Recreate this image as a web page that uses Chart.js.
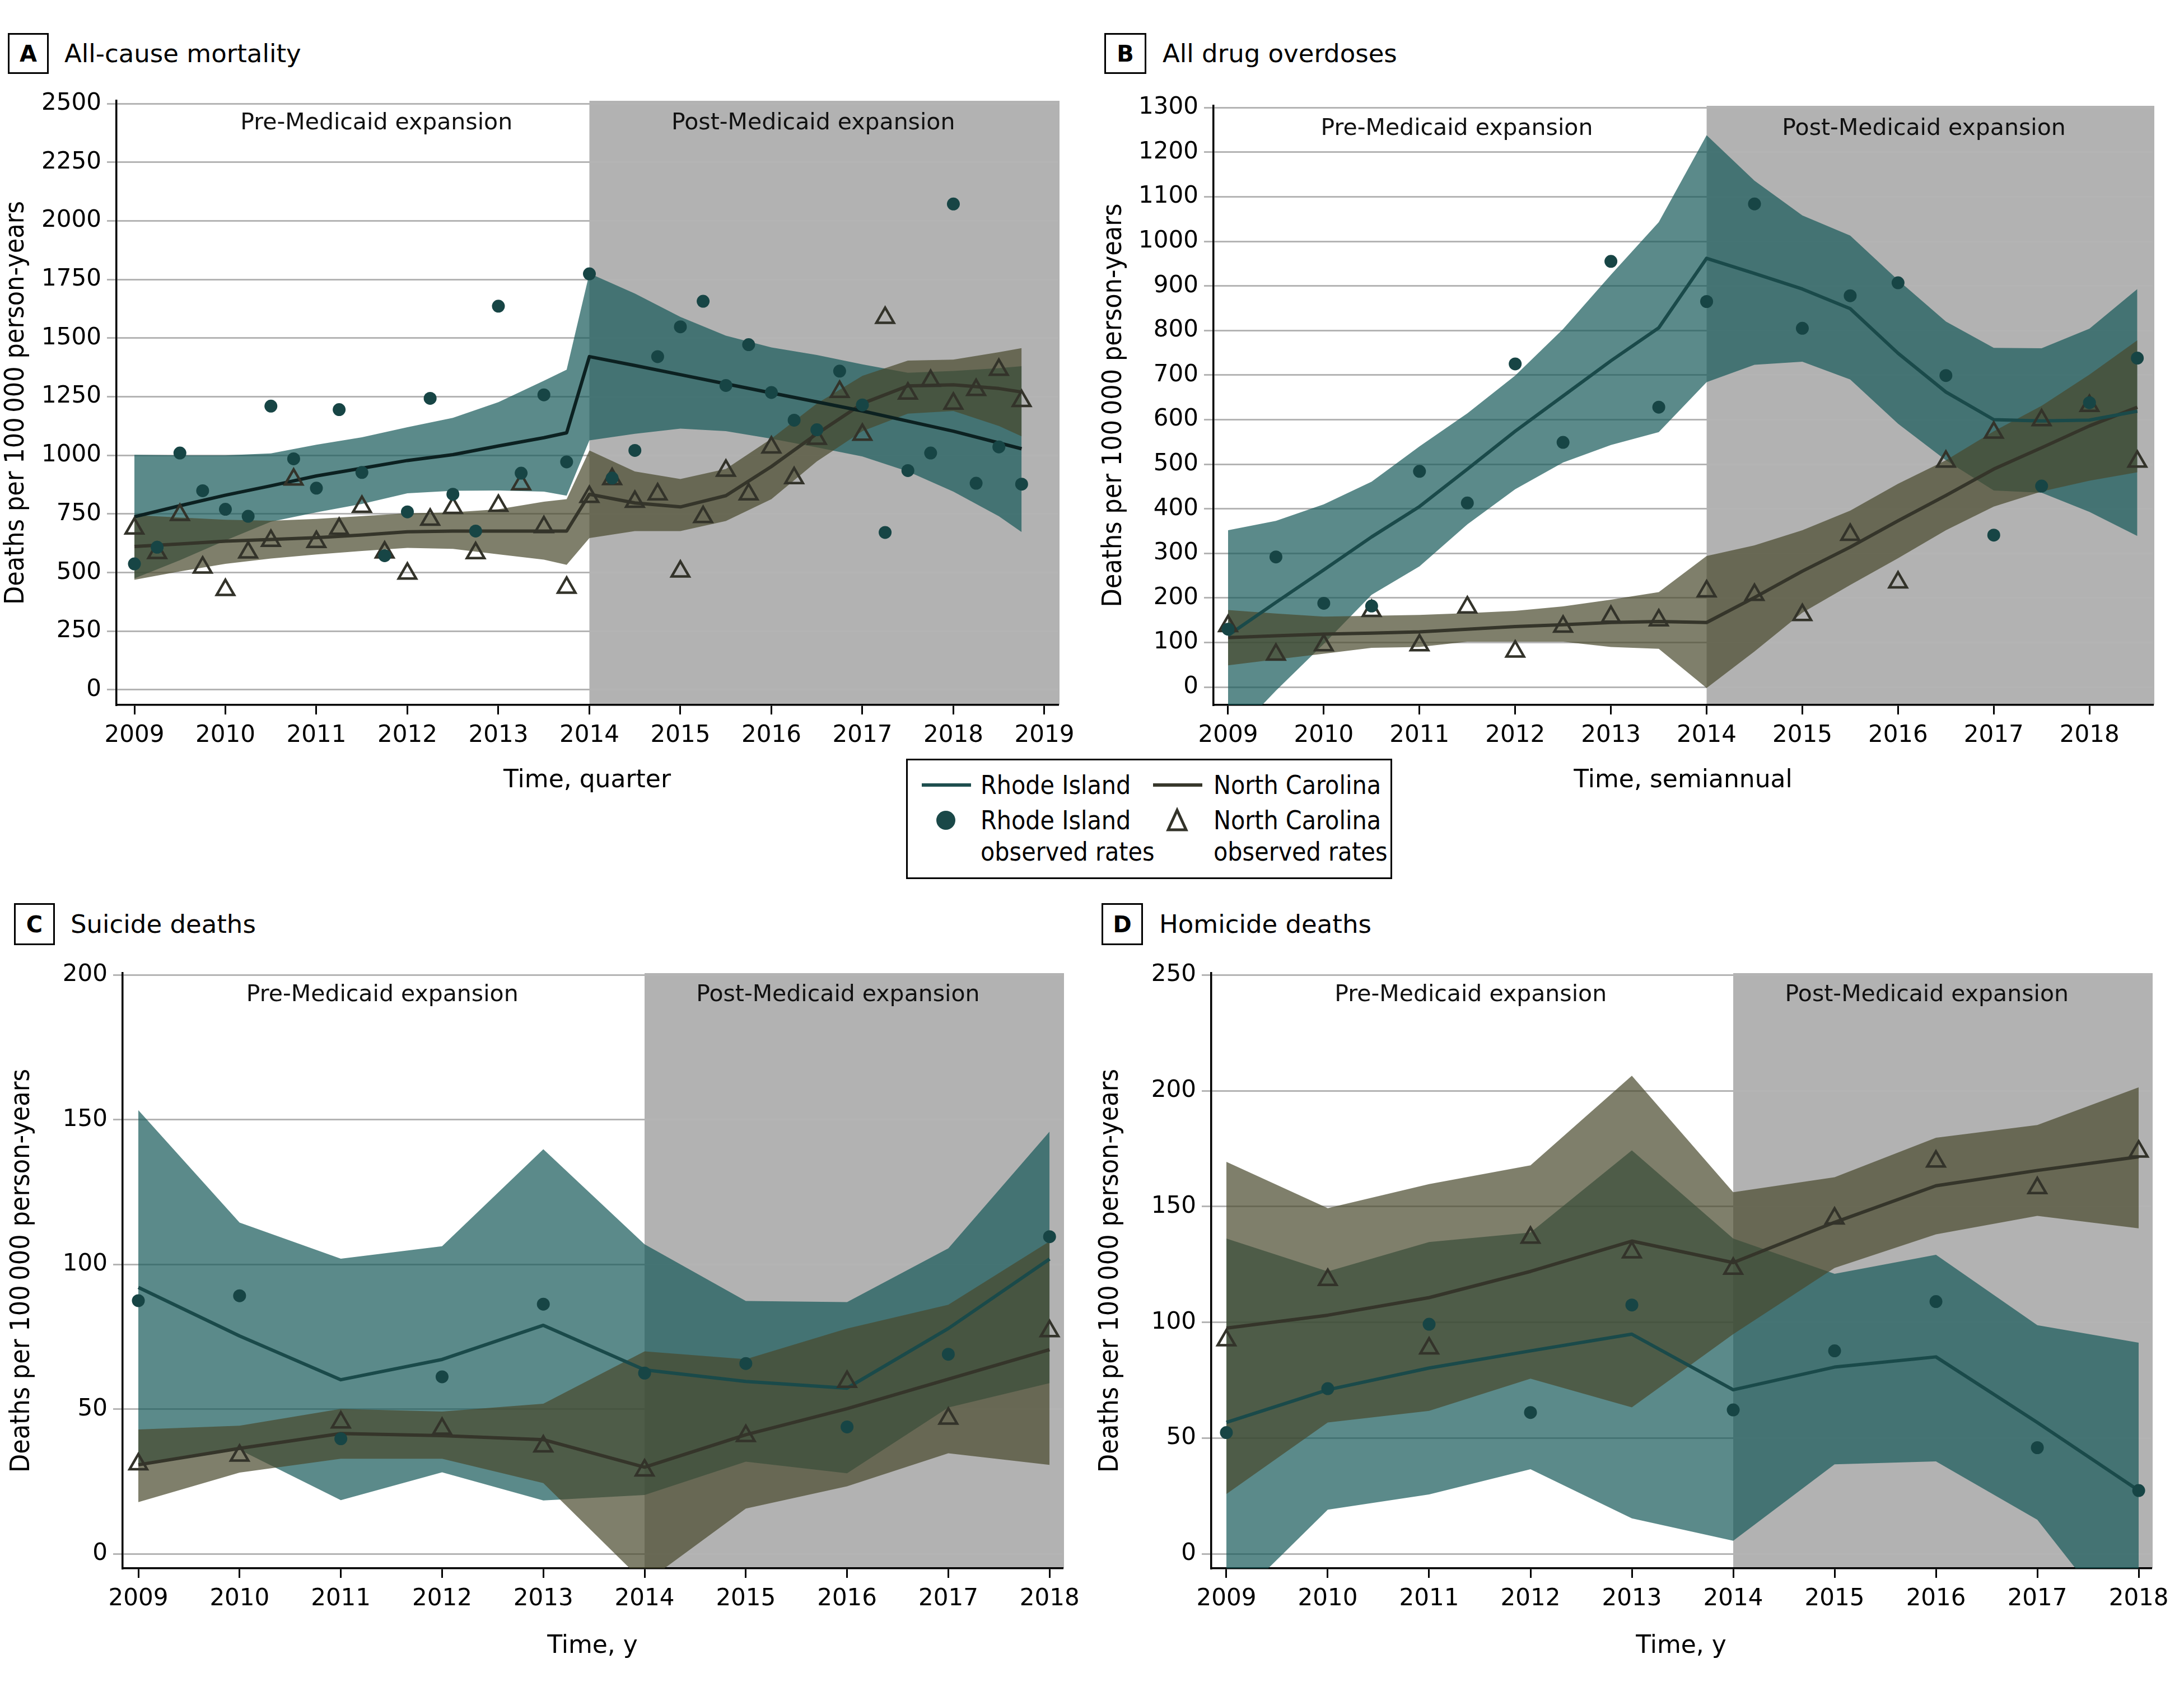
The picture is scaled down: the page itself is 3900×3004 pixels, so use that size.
<!DOCTYPE html>
<html><head><meta charset="utf-8">
<script src="https://cdn.jsdelivr.net/npm/chart.js@4.4.1/dist/chart.umd.min.js"></script>
<style>
html,body{margin:0;padding:0;background:#fff;}
body{width:3900px;height:3004px;position:relative;overflow:hidden;font-family:'DejaVu Sans',sans-serif;}
canvas{position:absolute;}
.box{position:absolute;border:3px solid #000;box-sizing:border-box;font:bold 40px 'DejaVu Sans';display:flex;align-items:center;justify-content:center;color:#000;}
.ptitle{position:absolute;font:45px 'DejaVu Sans';line-height:60px;height:60px;color:#000;white-space:nowrap;}
#legend{position:absolute;left:1618px;top:1355px;width:868px;height:215px;border:3px solid #000;box-sizing:border-box;background:#fff;z-index:5;}
.lsw{position:absolute;width:88px;height:6px;}
.ltx{position:absolute;font-size:46px;line-height:56px;height:56px;white-space:nowrap;color:#000;font-family:'DejaVu Sans Condensed','Liberation Sans Narrow',sans-serif;}
</style></head><body>

<div class="box" style="left:14px;top:59px;width:73px;height:73px;">A</div>
<div class="ptitle" style="left:115px;top:66px;">All-cause mortality</div>
<div class="box" style="left:1972px;top:59px;width:75px;height:73px;">B</div>
<div class="ptitle" style="left:2076px;top:66px;">All drug overdoses</div>
<div class="box" style="left:25px;top:1613px;width:73px;height:75px;">C</div>
<div class="ptitle" style="left:126px;top:1621px;">Suicide deaths</div>
<div class="box" style="left:1967px;top:1613px;width:74px;height:75px;">D</div>
<div class="ptitle" style="left:2070px;top:1621px;">Homicide deaths</div>

<canvas id="cA" width="1950" height="1309" style="left:0px;top:140px;"></canvas>
<canvas id="cB" width="1950" height="1309" style="left:1950px;top:140px;"></canvas>
<canvas id="cC" width="1950" height="1293" style="left:0px;top:1698px;"></canvas>
<canvas id="cD" width="1950" height="1293" style="left:1950px;top:1698px;"></canvas>

<div id="legend">
  <div class="lsw" style="left:25px;top:41px;background:#1e4f4f;"></div>
  <div class="ltx" style="left:130px;top:16px;">Rhode Island</div>
  <svg style="position:absolute;left:48px;top:87px;" width="40" height="40"><circle cx="20" cy="20" r="17" fill="#1a4848"/></svg>
  <div class="ltx" style="left:130px;top:79px;">Rhode Island</div>
  <div class="ltx" style="left:130px;top:135px;">observed rates</div>
  <div class="lsw" style="left:438px;top:41px;background:#37372b;"></div>
  <div class="ltx" style="left:546px;top:16px;">North Carolina</div>
  <svg style="position:absolute;left:456px;top:83px;" width="50" height="50"><polygon points="25,6 9,41 41,41" fill="none" stroke="#33332a" stroke-width="5"/></svg>
  <div class="ltx" style="left:546px;top:79px;">North Carolina</div>
  <div class="ltx" style="left:546px;top:135px;">observed rates</div>
</div>

<script>
// ---------------- Panel A: all-cause mortality (quarterly) ----------------
const aObsX = [2009,2009.25,2009.5,2009.75,2010,2010.25,2010.5,2010.75,2011,2011.25,2011.5,2011.75,2012,2012.25,2012.5,2012.75,2013,2013.25,2013.5,2013.75,2014,2014.25,2014.5,2014.75,2015,2015.25,2015.5,2015.75,2016,2016.25,2016.5,2016.75,2017,2017.25,2017.5,2017.75,2018,2018.25,2018.5,2018.75];
const aRiObs = [537,608,1010,849,770,740,1210,985,860,1195,927,572,759,1243,834,677,1636,924,1258,972,1774,903,1021,1421,1548,1657,1298,1472,1268,1150,1109,1359,1215,671,935,1010,2072,881,1036,877];
const aNcObs = [688,584,746,522,426,586,636,897,631,687,781,586,496,726,776,583,785,877,694,436,823,899,802,834,505,737,935,834,1034,903,1071,1271,1088,1587,1264,1318,1221,1279,1365,1232];
const aFitX = [2009,2009.5,2010,2010.5,2011,2011.5,2012,2012.5,2013,2013.5,2013.75,2014,2014.5,2015,2015.5,2016,2016.5,2017,2017.5,2018,2018.5,2018.75];
const aRiFit = [738,785,830,870,912,945,978,1003,1040,1075,1096,1421,1383,1344,1305,1266,1228,1189,1146,1103,1053,1028];
const aNcFit = [611,622,634,641,649,660,674,677,677,677,677,834,797,780,828,952,1092,1221,1296,1301,1285,1270];
const aRiHi = [1002,1000,1000,1008,1045,1077,1120,1160,1227,1318,1365,1776,1690,1590,1510,1460,1428,1388,1352,1360,1372,1380];
const aRiLo = [475,553,637,717,757,793,838,849,850,845,828,1064,1092,1114,1103,1071,1034,995,931,845,740,673];
const aNcHi = [745,735,725,721,729,741,753,757,770,802,813,1021,931,899,942,1071,1221,1339,1404,1408,1440,1457];
const aNcLo = [469,505,537,560,577,592,605,601,578,555,533,647,677,677,720,813,974,1103,1178,1189,1125,1081];
const aXTicks = [2009,2010,2011,2012,2013,2014,2015,2016,2017,2018,2019];
const aYTicks = [0,250,500,750,1000,1250,1500,1750,2000,2250,2500];

// ---------------- Panel B: all drug overdoses (semiannual) ----------------
const bX = [2009,2009.5,2010,2010.5,2011,2011.5,2012,2012.5,2013,2013.5,2014,2014.5,2015,2015.5,2016,2016.5,2017,2017.5,2018,2018.5];
const bRiObs = [130,292,188,182,484,413,725,549,955,628,865,1084,805,878,907,699,341,451,638,738];
const bNcObs = [137,73,94,171,94,179,80,136,158,150,215,207,162,342,235,506,571,599,631,506];
const bRiFit = [116,190,263,337,405,489,574,653,732,806,962,928,893,849,749,662,600,597,599,619];
const bNcFit = [111,115,119,121,124,130,136,140,145,147,145,201,260,314,373,430,489,537,586,628];
const bRiHi = [352,373,410,461,540,614,699,803,925,1043,1238,1136,1058,1013,913,820,761,760,804,893];
const bRiLo = [-120,-8,97,207,271,365,444,504,543,572,684,723,730,690,591,509,441,436,393,339];
const bNcHi = [173,165,158,160,162,166,171,181,196,213,294,318,352,396,456,509,574,631,701,778];
const bNcLo = [49,62,75,88,90,102,102,102,90,86,-2,80,167,229,289,352,405,439,463,482];
const bXTicks = [2009,2010,2011,2012,2013,2014,2015,2016,2017,2018];
const bYTicks = [0,100,200,300,400,500,600,700,800,900,1000,1100,1200,1300];

// ---------------- Panel C: suicide deaths (annual) ----------------
const cX = [2009,2010,2011,2012,2013,2014,2015,2016,2017,2018];
const cRiObs = [87.5,89.2,39.8,61.2,86.3,62.5,65.8,43.9,69.0,109.6];
const cNcObs = [31.0,34.0,45.5,43.3,37.2,28.9,40.8,59.5,46.8,77.0];
const cRiFit = [92.1,75.3,60.2,67.2,79.0,63.6,59.6,57.3,77.9,101.9];
const cNcFit = [30.8,36.5,41.6,40.9,39.5,30.0,41.2,50.2,60.4,70.6];
const cRiHi = [153.3,114.5,102.0,106.3,139.8,107.0,87.4,87.0,105.6,145.9];
const cRiLo = [31.0,36.0,18.6,28.2,18.5,20.4,31.9,27.9,50.6,59.0];
const cNcHi = [43.0,44.3,50.1,49.2,51.9,70.0,67.3,77.9,86.1,108.0];
const cNcLo = [17.9,28.1,32.9,32.9,24.5,-10.0,15.7,23.4,34.8,30.8];
const cYTicks = [0,50,100,150,200];

// ---------------- Panel D: homicide deaths (annual) ----------------
const dX = [2009,2010,2011,2012,2013,2014,2015,2016,2017,2018];
const dRiObs = [52.4,71.4,99.2,61.1,107.5,62.2,87.7,109.0,45.9,27.4];
const dNcObs = [92.3,118.4,88.8,136.6,130.3,123.2,144.9,169.5,158.0,173.8];
const dRiFit = [56.8,70.9,80.3,87.7,94.9,70.9,80.7,85.1,56.8,27.4];
const dNcFit = [97.5,103.1,110.7,122.0,135.1,125.8,143.2,159.0,165.6,171.5];
const dRiHi = [136.2,122.0,134.7,138.8,174.3,136.2,121.0,129.2,98.8,91.2];
const dRiLo = [-24.0,19.1,25.7,36.6,15.4,5.7,38.7,40.0,14.8,-41.0];
const dNcHi = [169.3,149.3,159.7,167.8,206.5,156.2,162.7,179.7,185.2,201.5];
const dNcLo = [25.9,56.8,61.8,75.7,63.3,94.9,123.5,138.0,146.0,140.6];
const dYTicks = [0,50,100,150,200,250];
const cdXTicks = [2009,2010,2011,2012,2013,2014,2015,2016,2017,2018];

// ---------------- styles ----------------
const RI_BAND = 'rgba(21,89,88,0.70)';
const NC_BAND = 'rgba(72,72,44,0.70)';
const RI_LINE = '#1a4a4a';
const NC_LINE = '#35352a';
const DOT = '#174545';
const TRI = '#33332a';
const SHADE = '#b2b2b2';
const GRID = '#b4b4b4';
const NARROW = "'DejaVu Sans Condensed','Liberation Sans Narrow',sans-serif";

Chart.defaults.font.family = "'DejaVu Sans', sans-serif";

const expansionPlugin = {
  id: 'expansion',
  beforeDraw(chart, args, o) {
    const {ctx, chartArea: ca, scales: {x}} = chart;
    const x0 = x.getPixelForValue(o.start);
    ctx.save();
    ctx.fillStyle = SHADE;
    ctx.fillRect(x0, ca.top, ca.right - x0 + 3, ca.bottom - ca.top);
    ctx.restore();
  },
  afterDraw(chart, args, o) {
    const {ctx, chartArea: ca, scales: {x}} = chart;
    ctx.save();
    ctx.font = "41px 'DejaVu Sans'";
    ctx.fillStyle = '#111';
    ctx.textAlign = 'center';
    ctx.textBaseline = 'middle';
    ctx.fillText('Pre-Medicaid expansion', x.getPixelForValue(o.preX), ca.top + o.labelOffset);
    ctx.fillText('Post-Medicaid expansion', x.getPixelForValue(o.postX), ca.top + o.labelOffset);
    ctx.restore();
  }
};

function xy(xs, ys) { return xs.map((v, i) => ({x: v, y: ys[i]})); }

function build(id, c) {
  const datasets = [
    {data: xy(c.obsX, c.riObs), showLine: false, pointStyle: 'circle', pointRadius: 11.5,
     pointBackgroundColor: DOT, pointBorderWidth: 0, order: 0},
    {data: xy(c.obsX, c.ncObs), showLine: false, pointStyle: 'triangle', pointRadius: 18,
     pointBackgroundColor: 'rgba(0,0,0,0)', pointBorderColor: TRI, pointBorderWidth: 4.5, order: 0},
    {data: xy(c.fitX, c.riFit), borderColor: c.riLine || RI_LINE, borderWidth: 6, pointRadius: 0,
     fill: false, tension: 0, borderJoinStyle: 'round', order: 1},
    {data: xy(c.fitX, c.ncFit), borderColor: NC_LINE, borderWidth: 6, pointRadius: 0,
     fill: false, tension: 0, borderJoinStyle: 'round', order: 1},
    {data: xy(c.fitX, c.ncHi), borderColor: 'rgba(0,0,0,0)', borderWidth: 0, pointRadius: 0,
     backgroundColor: NC_BAND, fill: '+1', tension: 0, order: 2},
    {data: xy(c.fitX, c.ncLo), borderColor: 'rgba(0,0,0,0)', borderWidth: 0, pointRadius: 0,
     fill: false, tension: 0, order: 2},
    {data: xy(c.fitX, c.riHi), borderColor: 'rgba(0,0,0,0)', borderWidth: 0, pointRadius: 0,
     backgroundColor: RI_BAND, fill: '+1', tension: 0, order: 3},
    {data: xy(c.fitX, c.riLo), borderColor: 'rgba(0,0,0,0)', borderWidth: 0, pointRadius: 0,
     fill: false, tension: 0, order: 3}
  ];
  return new Chart(document.getElementById(id), {
    type: 'line',
    data: {datasets},
    plugins: [expansionPlugin],
    options: {
      responsive: false, animation: false, devicePixelRatio: 1, events: [],
      layout: {padding: {left: 0, top: c.padTop, right: c.padRight, bottom: 0}},
      plugins: {
        legend: {display: false}, tooltip: {enabled: false},
        expansion: {start: 2014, preX: c.preX, postX: c.postX, labelOffset: c.labelOffset}
      },
      scales: {
        x: {
          type: 'linear', min: c.xMin, max: c.xMax,
          afterBuildTicks: s => { s.ticks = c.xTicks.map(v => ({value: v})); },
          afterFit: s => { s.height = 190; },
          grid: {drawOnChartArea: false, color: '#000', lineWidth: 3, tickLength: 17, tickColor: '#000'},
          border: {display: true, color: '#000', width: 3.5},
          ticks: {callback: v => String(v), font: {size: 42}, color: '#000', padding: 13, maxRotation: 0, autoSkip: false},
          title: {display: true, text: c.xTitle, color: '#000',
                  font: {size: 44, lineHeight: 1.2}, padding: {top: 0, bottom: c.xTitlePad}}
        },
        y: {
          type: 'linear', min: c.yMin, max: c.yMax,
          afterBuildTicks: s => { s.ticks = c.yTicks.map(v => ({value: v})); },
          afterFit: s => { s.width = c.yw; },
          grid: {color: GRID, lineWidth: 3, tickLength: 17, tickColor: GRID},
          border: {display: true, color: '#000', width: 3.5},
          ticks: {callback: v => String(v), font: {size: 42}, color: '#000', padding: 10, autoSkip: false},
          title: {display: true, text: 'Deaths per 100\u2009000 person-years', color: '#000',
                  font: {size: 48, family: NARROW, lineHeight: 1}, padding: {top: c.yTitlePad, bottom: 0}}
        }
      }
    }
  });
}

build('cA', {obsX: aObsX, riObs: aRiObs, ncObs: aNcObs, fitX: aFitX, riFit: aRiFit, ncFit: aNcFit,
  riHi: aRiHi, riLo: aRiLo, ncHi: aNcHi, ncLo: aNcLo, xTicks: aXTicks, yTicks: aYTicks,
  riLine: '#0c2121', padTop: 40, padRight: 61, yw: 208, xMin: 2008.803, xMax: 2019.148, yMin: -64.5, yMax: 2512,
  xTitle: 'Time, quarter', xTitlePad: 28, yTitlePad: 6, preX: 2011.66, postX: 2016.46, labelOffset: 40});

build('cB', {obsX: bX, riObs: bRiObs, ncObs: bNcObs, fitX: bX, riFit: bRiFit, ncFit: bNcFit,
  riHi: bRiHi, riLo: bRiLo, ncHi: bNcHi, ncLo: bNcLo, xTicks: bXTicks, yTicks: bYTicks,
  padTop: 49, padRight: 56, yw: 217, xMin: 2008.848, xMax: 2018.66, yMin: -40, yMax: 1304,
  xTitle: 'Time, semiannual', xTitlePad: 28, yTitlePad: 16, preX: 2011.39, postX: 2016.27, labelOffset: 41});

build('cC', {obsX: cX, riObs: cRiObs, ncObs: cNcObs, fitX: cX, riFit: cRiFit, ncFit: cNcFit,
  riHi: cRiHi, riLo: cRiLo, ncHi: cNcHi, ncLo: cNcLo, xTicks: cdXTicks, yTicks: cYTicks,
  padTop: 40, padRight: 53, yw: 219, xMin: 2008.845, xMax: 2018.126, yMin: -4.95, yMax: 200.64,
  xTitle: 'Time, y', xTitlePad: 24, yTitlePad: 16, preX: 2011.41, postX: 2015.91, labelOffset: 39});

build('cD', {obsX: dX, riObs: dRiObs, ncObs: dNcObs, fitX: dX, riFit: dRiFit, ncFit: dNcFit,
  riHi: dRiHi, riLo: dRiLo, ncHi: dNcHi, ncLo: dNcLo, xTicks: cdXTicks, yTicks: dYTicks,
  padTop: 40, padRight: 59, yw: 213, xMin: 2008.851, xMax: 2018.121, yMin: -6.2, yMax: 250.8,
  xTitle: 'Time, y', xTitlePad: 24, yTitlePad: 10, preX: 2011.41, postX: 2015.91, labelOffset: 39});
</script>
</body></html>
